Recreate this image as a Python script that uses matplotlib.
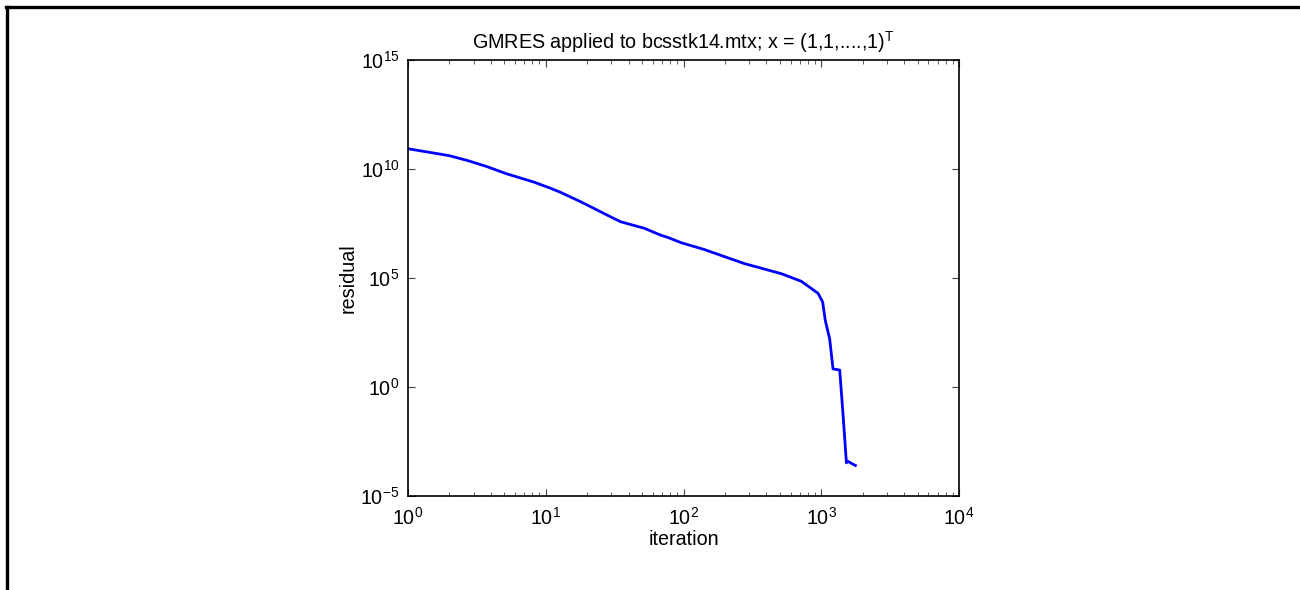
import numpy as np
import matplotlib.pyplot as plt
from matplotlib.lines import Line2D
from matplotlib.ticker import LogLocator, NullLocator

plt.rcParams['font.family'] = ['Liberation Sans', 'DejaVu Sans']
plt.rcParams['mathtext.fontset'] = 'custom'
plt.rcParams['mathtext.rm'] = 'Liberation Sans'
plt.rcParams['mathtext.it'] = 'Liberation Sans'
plt.rcParams['mathtext.default'] = 'regular'

# residual history (iteration, log10 residual)
iteration = [1, 2, 2.7, 3.7, 5.2, 8.2, 10.8, 12.8, 17.9, 25, 31, 35, 41,
             52, 68, 77, 96, 141, 277, 512, 716, 947, 1024, 1070, 1151,
             1217, 1361, 1439, 1523, 1550, 1582, 1650, 1770]
log_residual = [10.93, 10.61, 10.39, 10.12, 9.78, 9.40, 9.12, 8.93, 8.50,
                8.04, 7.74, 7.58, 7.46, 7.28, 6.97, 6.86, 6.62, 6.31, 5.66,
                5.20, 4.85, 4.30, 3.90, 3.05, 2.21, 0.83, 0.78, -1.25,
                -3.48, -3.40, -3.43, -3.50, -3.60]

residual = 10.0 ** np.array(log_residual)

fig = plt.figure(figsize=(13, 5.9), dpi=100)
ax = fig.add_axes([408 / 1300, 94 / 590, 551 / 1300, 436 / 590])

ax.loglog(iteration, residual, color='#0000ff', linewidth=2.0)

ax.set_xlim(1, 1e4)
ax.set_ylim(1e-5, 1e15)
ax.set_yticks([1e-5, 1e0, 1e5, 1e10, 1e15])
ax.yaxis.set_minor_locator(NullLocator())
ax.xaxis.set_minor_locator(LogLocator(base=10, subs=np.arange(2, 10)))

ax.tick_params(which='both', direction='in', top=True, right=True,
               labelsize=14.2, color='#444444')
ax.tick_params(which='major', length=5, width=0.8)
ax.tick_params(axis='x', which='major', pad=8)
ax.tick_params(axis='y', which='major', pad=6)
ax.tick_params(which='minor', length=3, width=0.6)
for s in ax.spines.values():
    s.set_linewidth(1.2)

ax.set_title('GMRES applied to bcsstk14.mtx; x = (1,1,....,1)$^{T}$',
             fontsize=14.2, pad=8)
ax.set_xlabel('iteration', fontsize=14.2, labelpad=1)
ax.set_ylabel('residual', fontsize=14.2, labelpad=2)

# border remnants at left and top of the cropped figure
fig.add_artist(Line2D([7 / 1300, 7 / 1300], [0, 583 / 590],
                      transform=fig.transFigure, color='black', linewidth=2.4))
fig.add_artist(Line2D([6 / 1300, 1], [583 / 590, 583 / 590],
                      transform=fig.transFigure, color='black', linewidth=2.4))

fig.savefig('out.png', dpi=100)
